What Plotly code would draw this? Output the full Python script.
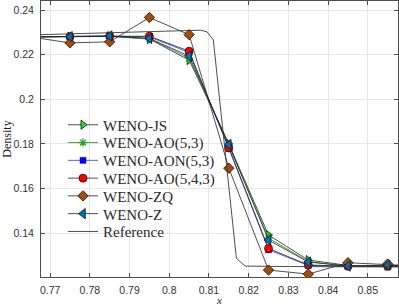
import plotly.graph_objects as go

# ---------------- data ----------------
x_cells = [0.765, 0.775, 0.785, 0.795, 0.805, 0.815, 0.825, 0.835, 0.845, 0.855, 0.865]

weno_js = [0.2280, 0.2281, 0.2283, 0.2270, 0.2176, 0.1800, 0.1391, 0.1279, 0.1255, 0.1253, 0.1250]
weno_ao53 = [0.2280, 0.2281, 0.2283, 0.2272, 0.2185, 0.1795, 0.1378, 0.1272, 0.1253, 0.1252, 0.1250]
weno_aon53 = [0.2280, 0.2281, 0.2284, 0.2280, 0.2210, 0.1780, 0.1325, 0.1255, 0.1251, 0.1251, 0.1250]
weno_ao543 = [0.2280, 0.2281, 0.2284, 0.2283, 0.2216, 0.1782, 0.1331, 0.1257, 0.1251, 0.1251, 0.1250]
weno_zq = [0.2280, 0.2253, 0.2258, 0.2367, 0.2290, 0.1691, 0.1234, 0.1216, 0.1267, 0.1261, 0.1250]
weno_z = [0.2280, 0.2281, 0.2284, 0.2273, 0.2194, 0.1797, 0.1369, 0.1270, 0.1252, 0.1256, 0.1250]

ref_x = [0.7677, 0.7800, 0.7900, 0.8000, 0.8078, 0.8095, 0.8111, 0.8169, 0.8191, 0.8300, 0.8400, 0.8577]
ref_y = [0.2290, 0.2296, 0.2301, 0.2306, 0.2310, 0.2303, 0.2266, 0.1287, 0.1252, 0.1250, 0.1249, 0.1248]

x_ticks = [0.77, 0.78, 0.79, 0.80, 0.81, 0.82, 0.83, 0.84, 0.85]
x_tick_text = ["0.77", "0.78", "0.79", "0.8", "0.81", "0.82", "0.83", "0.84", "0.85"]
y_ticks = [0.14, 0.16, 0.18, 0.20, 0.22, 0.24]
y_tick_text = ["0.14", "0.16", "0.18", "0.2", "0.22", "0.24"]

# ---------------- figure ----------------
W, H = 399, 306
ML, MR, MT, MB = 41, 1, 1, 29
PW, PH = W - ML - MR, H - MT - MB

fig = go.Figure()

series = [
    ("WENO-JS", weno_js, dict(symbol="triangle-right", size=8, color="#22dd22",
                              line=dict(color="#111", width=0.8)), dict(color="#222", width=0.8)),
    ("WENO-AO(5,3)", weno_ao53, dict(symbol="asterisk-open", size=7,
                                     line=dict(color="#00a000", width=1.2)), dict(color="#2ca02c", width=0.9)),
    ("WENO-AON(5,3)", weno_aon53, dict(symbol="square", size=6, color="#0000ff",
                                       line=dict(color="#0000ff", width=0.5)), dict(color="#4a4aff", width=0.9)),
    ("WENO-AO(5,4,3)", weno_ao543, dict(symbol="circle", size=8, color="#ff0000",
                                        line=dict(color="#111", width=0.8)), dict(color="#222", width=0.8)),
    ("WENO-ZQ", weno_zq, dict(symbol="diamond", size=8, color="#a64b0c",
                              line=dict(color="#111", width=0.8)), dict(color="#222", width=0.8)),
    ("WENO-Z", weno_z, dict(symbol="triangle-left", size=9, color="#0072bd",
                            line=dict(color="#111", width=0.8)), dict(color="#222", width=0.8)),
]

row_px = [125, 142.8, 160.6, 178.4, 196.1, 213.9, 231.7]
legend_left_px = 63
leg_font = dict(family="Liberation Serif", size=15, color="#2a2a2a")

layout_legends = {}
for i, (name, ys, mk, ln) in enumerate(series):
    key = "legend" if i == 0 else f"legend{i+1}"
    fig.add_trace(go.Scatter(x=x_cells, y=ys, mode="lines+markers", name=name,
                             marker=mk, line=ln, legend=key))
    layout_legends[key] = dict(
        x=(legend_left_px - ML) / PW, y=(MT + PH - row_px[i]) / PH,
        xanchor="left", yanchor="middle", bgcolor="rgba(0,0,0,0)",
        borderwidth=0, font=leg_font)

fig.add_trace(go.Scatter(x=ref_x, y=ref_y, mode="lines", name="Reference",
                         line=dict(color="#3a3a3a", width=0.9), legend="legend7"))
layout_legends["legend7"] = dict(
    x=(legend_left_px - ML) / PW, y=(MT + PH - row_px[6]) / PH,
    xanchor="left", yanchor="middle", bgcolor="rgba(0,0,0,0)",
    borderwidth=0, font=leg_font)

axis_common = dict(
    showline=True, linecolor="#4d4d4d", linewidth=1, mirror="ticks",
    ticks="inside", ticklen=4, tickcolor="#4d4d4d", tickwidth=1,
    showgrid=True, gridcolor="#e6e6e6", gridwidth=1, zeroline=False,
    tickfont=dict(family="Liberation Sans", size=10.5, color="#333"),
)

fig.update_layout(
    width=W, height=H,
    margin=dict(l=ML, r=MR, t=MT, b=MB),
    paper_bgcolor="white", plot_bgcolor="white",
    showlegend=True,
    xaxis=dict(range=[0.7677, 0.8576], tickvals=x_ticks, ticktext=x_tick_text,
               title=dict(text="<i>x</i>", font=dict(family="Liberation Serif", size=11, color="#222"),
                          standoff=7),
               ticklabelstandoff=3, automargin=False, **axis_common),
    yaxis=dict(range=[0.1203, 0.2441], tickvals=y_ticks, ticktext=y_tick_text,
               title=dict(text="Density", font=dict(family="Liberation Serif", size=12, color="#222"),
                          standoff=3),
               ticklabelstandoff=4, automargin=False, **axis_common),
    **layout_legends,
)

fig.write_html("out.html",
               config={"displayModeBar": False},
               post_script="document.body.style.margin='0';document.body.style.padding='0';")
